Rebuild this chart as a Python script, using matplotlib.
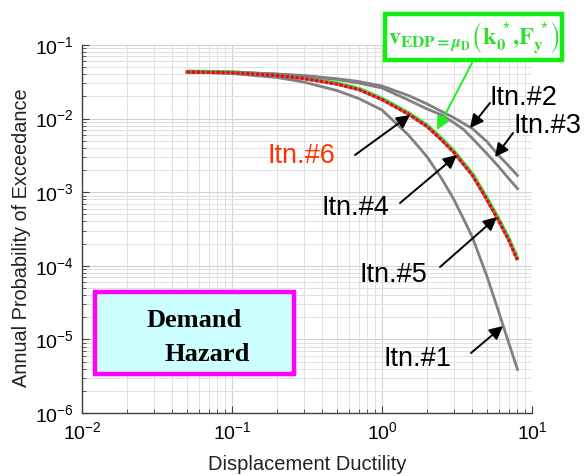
import matplotlib
matplotlib.use("Agg")
import matplotlib.pyplot as plt
import matplotlib.transforms as mtransforms
from matplotlib.patches import Rectangle

plt.rcParams['font.family'] = ['Liberation Sans', 'DejaVu Sans']
plt.rcParams['mathtext.fontset'] = 'custom'
plt.rcParams['mathtext.rm'] = 'Liberation Sans'
plt.rcParams['mathtext.it'] = 'Liberation Sans:italic'
plt.rcParams['mathtext.bf'] = 'Liberation Sans:bold'
plt.rcParams['mathtext.default'] = 'regular'

# Displacement ductility grid shared by all demand hazard curves
ductility = [0.05, 0.1, 0.2, 0.3, 0.5, 0.7, 1.0, 1.5, 2.0, 2.5, 3.0, 3.5, 4.0,
             5.0, 6.0, 7.0, 8.0]

# Annual probability of exceedance for each iteration
itn1 = [0.04296, 0.04100, 0.03617, 0.03143, 0.02409, 0.01875, 0.01309, 0.00599,
        0.003017, 0.001530, 8.09e-4, 4.32e-4, 2.46e-4, 7.27e-5, 2.36e-5, 8.94e-6,
        3.91e-6]
itn2 = [0.04296, 0.04256, 0.04036, 0.03851, 0.03484, 0.03191, 0.02773, 0.02060,
        0.01579, 0.01249, 0.01035, 0.00858, 0.00734, 0.00488, 0.00315, 0.00227,
        0.00169]
itn3 = [0.04296, 0.04256, 0.04011, 0.03793, 0.03398, 0.03046, 0.02604, 0.01789,
        0.01350, 0.01119, 0.00885, 0.00711, 0.00540, 0.00334, 0.00222, 0.00153,
        0.00112]
itn456 = [0.04296, 0.04203, 0.03851, 0.03506, 0.02952, 0.02485, 0.01818, 0.01155,
          0.00781, 0.00512, 0.00352, 0.00238, 0.00171, 7.96e-4, 4.10e-4, 2.24e-4,
          1.20e-4]

xticks = [1e-2, 1e-1, 1e0, 1e1]
xticklabels = ['10$^{-2}$', '10$^{-1}$', '10$^{0}$', '10$^{1}$']
yticks = [1e-6, 1e-5, 1e-4, 1e-3, 1e-2, 1e-1]
yticklabels = ['10$^{-6}$', '10$^{-5}$', '10$^{-4}$', '10$^{-3}$', '10$^{-2}$', '10$^{-1}$']

W, H = 584, 476
fig = plt.figure(figsize=(W / 100, H / 100), dpi=100)
ax = fig.add_axes([82 / W, 1 - 413 / H, 450 / W, 368 / H])
ax.set_xscale('log')
ax.set_yscale('log')
ax.set_xlim(1e-2, 1e1)
ax.set_ylim(1e-6, 1e-1)

ax.grid(True, which='major', color='#d2d2d2', lw=0.8)
ax.grid(True, which='minor', color='#e0e0e0', lw=0.7)
ax.set_axisbelow(True)
for s in ('top', 'right'):
    ax.spines[s].set_visible(False)
for s in ('left', 'bottom'):
    ax.spines[s].set_color('#404040')
    ax.spines[s].set_linewidth(1.0)
ax.tick_params(which='both', direction='in', color='#404040')
ax.tick_params(which='major', length=5, labelsize=14, pad=6)
ax.tick_params(which='minor', length=3)
ax.set_xticks(xticks)
ax.set_xticklabels(xticklabels)
ax.set_yticks(yticks)
ax.set_yticklabels(yticklabels)

gray = '#808080'
# Itn.#4 and #5 underneath the final iteration
ax.plot(ductility, itn456, color=gray, lw=2.4, solid_capstyle='butt', zorder=2)
# Converged v_EDP curve, slightly offset so it shows along the red one
green_tr = mtransforms.offset_copy(ax.transData, fig=fig, x=0.9, y=1.3, units='points')
ax.plot(ductility, itn456, color='#33ee33', lw=1.0, transform=green_tr, zorder=2.5)
ax.plot(ductility, itn1, color=gray, lw=2.0, zorder=3)
ax.plot(ductility, itn2, color=gray, lw=2.0, zorder=3)
ax.plot(ductility, itn3, color=gray, lw=2.0, zorder=3)
ax.plot(ductility, itn456, color='#ff0000', lw=2.3, linestyle=(0, (1, 0.55)),
        dash_capstyle='butt', zorder=4)

fig.text(307 / W, 1 - 470 / H, 'Displacement Ductility', ha='center', va='baseline',
         fontsize=14.5, color='#222222')
fig.text(22 / W, 1 - 238 / H, 'Annual Probability of Exceedance', ha='center',
         va='center', rotation=90, fontsize=14.3, color='#222222')


def afrac(px, py):
    return ((px - 82) / 450, (413 - py) / 368)


arrow_kw = dict(arrowstyle='-|>', mutation_scale=20, lw=1.4, color='black',
                shrinkA=0, shrinkB=0)
label_kw = dict(fontsize=19.5, ha='left', va='baseline')

# (text, left px, baseline px, colour, arrow tail px, arrow tip on curve)
labels = [
    ('Itn.#6', 268, 163, '#ff3300', (355, 155), (1.54, 0.0112)),
    ('Itn.#2', 489, 105, 'black', (490, 103), (3.86, 0.00745)),
    ('Itn.#3', 513, 133, 'black', (513, 133), (5.67, 0.0030)),
    ('Itn.#4', 322, 215, 'black', (400, 203), (3.16, 0.0032)),
    ('Itn.#5', 360, 282, 'black', (440, 267), (5.84, 4.6e-4)),
    ('Itn.#1', 383, 366, 'black', (471, 353), (6.41, 1.52e-5)),
]
for txt, lx, by, col, tail, tip in labels:
    ax.text(*afrac(lx, by), txt, transform=ax.transAxes, color=col,
            clip_on=False, zorder=6, **label_kw)
    ax.annotate('', xy=tip, xycoords='data', xytext=afrac(*tail),
                textcoords='axes fraction', arrowprops=arrow_kw, zorder=6,
                annotation_clip=False)

# Boxed formula for the converged demand hazard
fig.patches.append(Rectangle((385 / W, 1 - 60 / H), 177 / W, 46 / H,
                             transform=fig.transFigure, facecolor='white',
                             edgecolor='#11ee11', lw=3.2, zorder=5))
fig.text(474 / W, 1 - 38 / H,
         r'$\mathbf{v}_{\mathbf{EDP=}\boldsymbol{\mu}_{\mathbf{D}}}'
         r'\left(\mathbf{k}_{\mathbf{0}}^{\ *}\mathbf{,}\mathbf{F}_{\mathbf{y}}^{\ *}\right)$',
         ha='center', va='center', fontsize=17.5, color='#33dd33',
         math_fontfamily='stix', zorder=6)
ax.annotate('', xy=(2.33, 0.0070), xycoords='data', xytext=afrac(472, 63),
            textcoords='axes fraction',
            arrowprops=dict(arrowstyle='-|>', mutation_scale=20, lw=1.4,
                            color='#22ee22', shrinkA=0, shrinkB=0),
            annotation_clip=False, zorder=6)

# Demand Hazard box
ax.add_patch(Rectangle(afrac(95, 374), (294 - 95) / 450, (374 - 292) / 368,
                       transform=ax.transAxes, facecolor='#ccffff',
                       edgecolor='#ff00ff', lw=3.2, zorder=5, clip_on=False))
ax.text(*afrac(194, 327), 'Demand', transform=ax.transAxes, ha='center',
        va='baseline', fontsize=19, fontweight='bold', family='Liberation Serif',
        zorder=6)
ax.text(*afrac(207, 361), 'Hazard', transform=ax.transAxes, ha='center',
        va='baseline', fontsize=19, fontweight='bold', family='Liberation Serif',
        zorder=6)

fig.savefig('out.png', dpi=100)
